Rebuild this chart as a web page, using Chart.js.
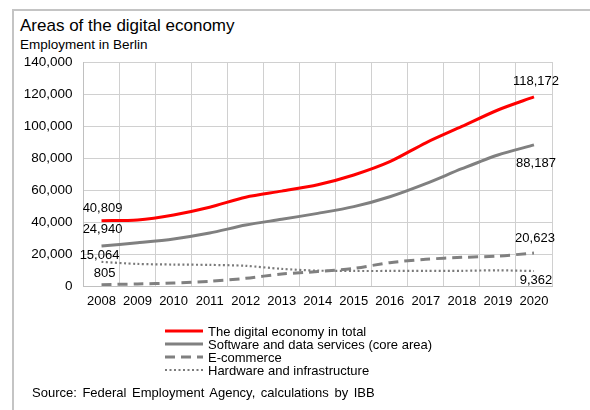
<!DOCTYPE html>
<html>
<head>
<meta charset="utf-8">
<title>Areas of the digital economy</title>
<script src="https://cdn.jsdelivr.net/npm/chart.js@4.4.1/dist/chart.umd.min.js"></script>
<style>
  html, body { margin: 0; padding: 0; background: #fff; }
  #wrap {
    position: relative; width: 590px; height: 410px; overflow: hidden;
    font-family: "Liberation Sans", Arial, sans-serif; color: #000;
  }
  #frame {
    position: absolute; left: 12px; top: 9px; right: -4px; bottom: -4px;
    border-top: 2px solid #c4c4c4; border-left: 2px solid #c4c4c4;
  }
  #title    { position: absolute; left: 20px; top: 16px; font-size: 17px; }
  #subtitle { position: absolute; left: 20px; top: 37px; font-size: 13.5px; }
  #source   { position: absolute; left: 32px; top: 385px; font-size: 13px; word-spacing: 2px; }
  #employmentChart { position: absolute; left: 0; top: 0; }
</style>
</head>
<body>
<div id="wrap">
  <div id="frame"></div>
  <div id="title">Areas of the digital economy</div>
  <div id="subtitle">Employment in Berlin</div>
  <canvas id="employmentChart" width="590" height="410"></canvas>
  <div id="source">Source: Federal Employment Agency, calculations by IBB</div>
</div>
<script>
const years = ['2008', '2009', '2010', '2011', '2012', '2013', '2014',
               '2015', '2016', '2017', '2018', '2019', '2020'];

const digitalTotal  = [40809, 41300, 44400, 49200, 55500, 59300, 63300, 69400, 77700, 89500, 99700, 110000, 118172];
const softwareCore  = [24940, 27000, 29400, 33100, 38100, 41700, 45400, 49600, 55800, 64000, 73300, 81900, 88187];
const eCommerce     = [805, 1300, 1900, 2900, 4800, 7500, 9000, 11000, 14600, 16700, 17900, 18700, 20623];
const hardwareInfra = [15064, 13800, 13400, 13200, 12600, 10700, 9600, 9400, 9400, 9500, 9500, 9800, 9362];

const yTicks = [0, 20000, 40000, 60000, 80000, 100000, 120000, 140000];

const seriesNames = [
    'The digital economy in total',
    'Software and data services (core area)',
    'E-commerce',
    'Hardware and infrastructure'
];

const fmt = v => v.toLocaleString('en-US');
const FONT = '"Liberation Sans", Arial, sans-serif';

// Value labels at the first and last point of every line
const endLabels = {
    id: 'endLabels',
    afterDatasetsDraw(chart) {
        const ctx = chart.ctx;
        ctx.save();
        ctx.font = '13px ' + FONT;
        ctx.fillStyle = '#000';
        ctx.textAlign = 'center';
        ctx.textBaseline = 'middle';
        chart.data.datasets.forEach((ds, i) => {
            const pts = chart.getDatasetMeta(i).data;
            const last = pts.length - 1;
            const [sx, sy, ex, ey] = ds.labelShift;
            ctx.fillText(fmt(ds.data[0]), pts[0].x + sx, pts[0].y + sy);
            ctx.fillText(fmt(ds.data[last]), pts[last].x + ex, pts[last].y + ey);
        });
        ctx.restore();
    }
};

// One legend entry per row below the plot
const stackedLegend = {
    id: 'stackedLegend',
    afterDraw(chart) {
        const ctx = chart.ctx;
        const x0 = 165, x1 = 203, top = 331, rowH = 13;
        ctx.save();
        ctx.font = '13px ' + FONT;
        ctx.textBaseline = 'middle';
        chart.data.datasets.forEach((ds, i) => {
            const y = top + i * rowH;
            ctx.beginPath();
            ctx.strokeStyle = ds.borderColor;
            ctx.lineWidth = ds.borderWidth;
            ctx.setLineDash(ds.borderDash || []);
            ctx.moveTo(x0, y);
            ctx.lineTo(x1, y);
            ctx.stroke();
            ctx.setLineDash([]);
            ctx.fillStyle = '#000';
            ctx.fillText(ds.label, x1 + 5, y + 1);
        });
        ctx.restore();
    }
};

new Chart(document.getElementById('employmentChart'), {
    type: 'line',
    data: {
        labels: years,
        datasets: [
            {
                label: seriesNames[0], data: digitalTotal,
                borderColor: '#ff0000', borderWidth: 3,
                labelShift: [1, -12, 2, -16]
            },
            {
                label: seriesNames[1], data: softwareCore,
                borderColor: '#808080', borderWidth: 3,
                labelShift: [1, -17, 2, 19]
            },
            {
                label: seriesNames[2], data: eCommerce,
                borderColor: '#808080', borderWidth: 3, borderDash: [10, 6],
                labelShift: [3, -11, 1, -15]
            },
            {
                label: seriesNames[3], data: hardwareInfra,
                borderColor: '#7a7a7a', borderWidth: 2.2, borderDash: [2, 2.5],
                labelShift: [-2, -6, 2, 9]
            }
        ]
    },
    options: {
        responsive: false,
        animation: false,
        layout: { padding: { top: 62, right: 38, left: 0, bottom: 0 } },
        elements: {
            point: { radius: 0 },
            line: { tension: 0.28, fill: false, borderCapStyle: 'butt' }
        },
        scales: {
            x: {
                offset: true,
                grid: { offset: true, color: '#d0d0d0', drawTicks: false },
                border: { color: '#c0c0c0' },
                ticks: { color: '#000', font: { family: FONT, size: 13 }, padding: 8, maxRotation: 0, autoSkip: false },
                afterFit: axis => { axis.height = 124; }
            },
            y: {
                min: 0, max: 140000,
                afterBuildTicks: axis => { axis.ticks = yTicks.map(v => ({ value: v })); },
                grid: { color: '#d0d0d0', drawTicks: false },
                border: { color: '#c0c0c0' },
                ticks: { color: '#000', font: { family: FONT, size: 13.5 }, padding: 11, callback: v => fmt(v) },
                afterFit: axis => { axis.width = 83.5; }
            }
        },
        plugins: {
            legend: { display: false },
            tooltip: { enabled: false }
        }
    },
    plugins: [endLabels, stackedLegend]
});
</script>
</body>
</html>
